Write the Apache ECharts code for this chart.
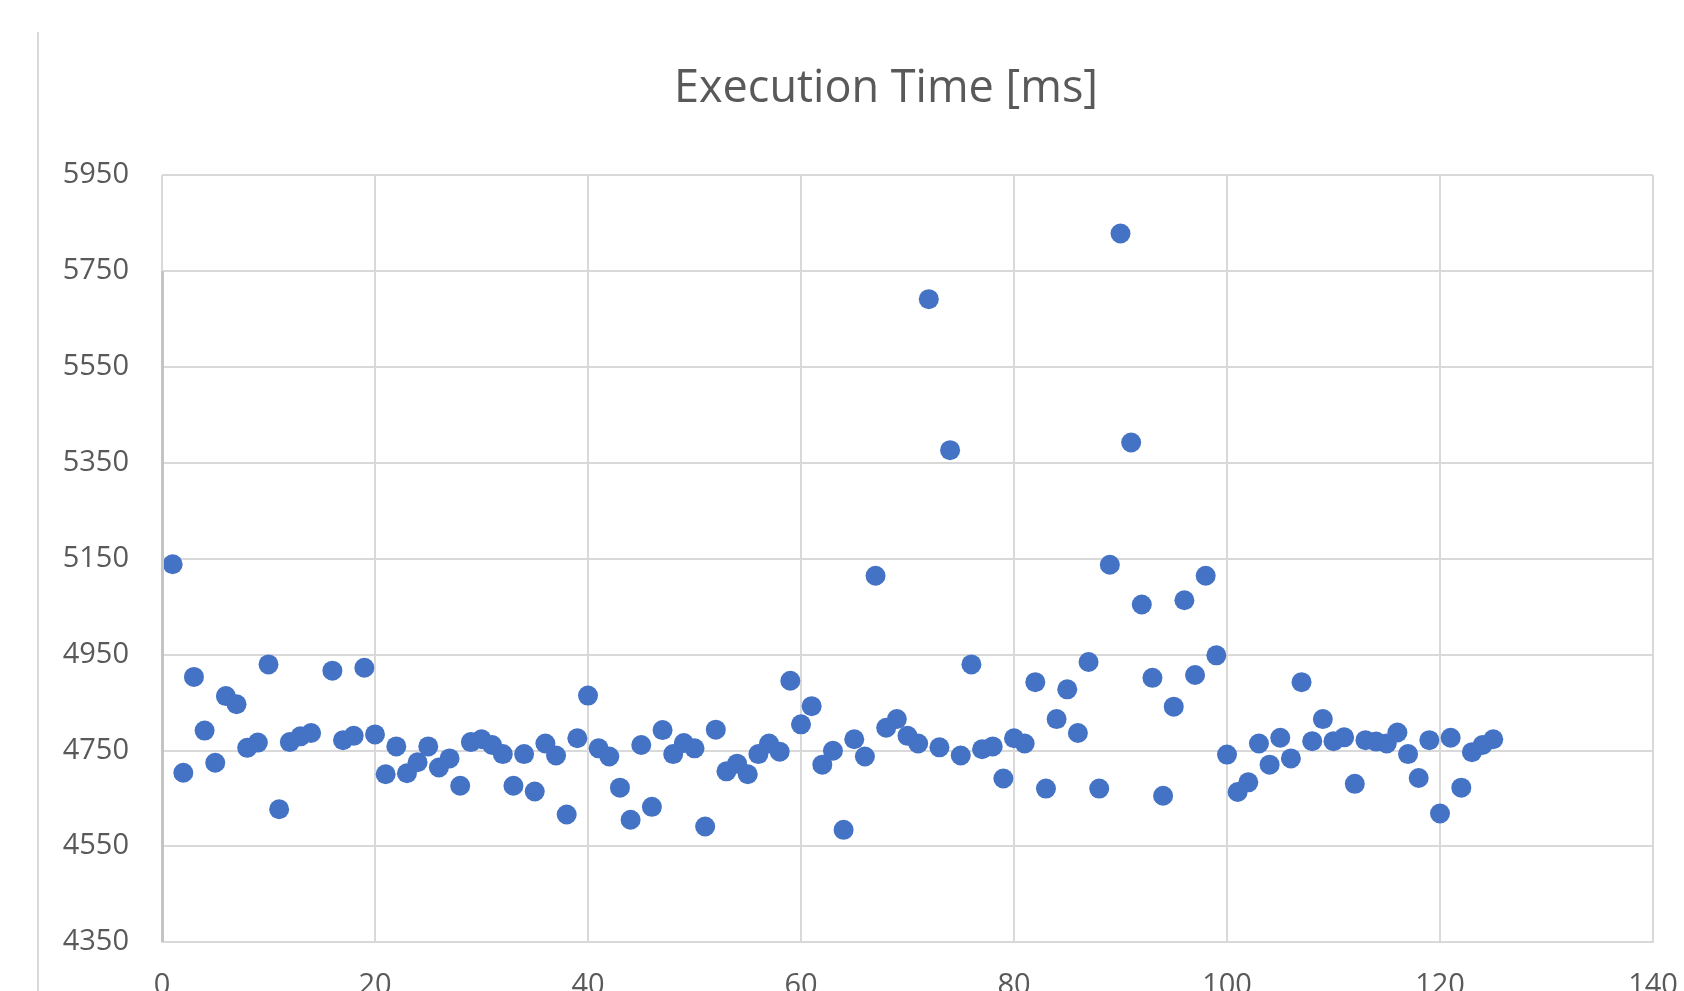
<!DOCTYPE html>
<html>
<head>
<meta charset="utf-8">
<script src="https://cdn.jsdelivr.net/npm/echarts@6/dist/echarts.min.js"></script>
<style>
html,body{margin:0;padding:0;background:#fff;}
#chart{width:1684px;height:991px;}
</style>
</head>
<body>
<div id="chart"></div>
<script>
const titleText = 'Execution Time [ms]';
const runIndex = [1,2,3,4,5,6,7,8,9,10,11,12,13,14,16,17,18,19,20,
  21,22,23,24,25,26,27,28,29,30,31,32,33,34,35,36,37,38,39,40,
  41,42,43,44,45,46,47,48,49,50,51,52,53,54,55,56,57,58,59,60,
  61,62,63,64,65,66,67,68,69,70,71,72,73,74,75,76,77,78,79,80,
  81,82,83,84,85,86,87,88,89,90,91,92,93,94,95,96,97,98,99,100,
  101,102,103,104,105,106,107,108,109,110,111,112,113,114,115,116,117,118,119,120,
  121,122,123,124,125];
const execTime = [5138,4703,4903,4791,4724,4863,4846,4755,4766,4929,4627,4767,4779,4786,4916,4771,4780,4922,4783,
  4700,4758,4702,4725,4758,4714,4733,4676,4767,4773,4761,4742,4676,4742,4664,4764,4739,4616,4775,4864,
  4754,4737,4672,4605,4761,4632,4792,4742,4765,4754,4591,4793,4706,4722,4700,4742,4764,4747,4895,4804,
  4842,4720,4749,4584,4773,4737,5114,4797,4815,4780,4764,5691,4756,5376,4739,4929,4752,4758,4691,4775,
  4764,4892,4670,4815,4877,4786,4934,4670,5137,5828,5392,5054,4901,4655,4841,5063,4907,5114,4948,4741,
  4663,4683,4764,4720,4776,4733,4892,4769,4815,4769,4777,4680,4771,4768,4764,4787,4742,4692,4771,4618,
  4776,4672,4746,4761,4773];
const xMin = 0, xMax = 140, xStep = 20;
const yMin = 4350, yMax = 5950, yStep = 200;

const points = runIndex.map((x, i) => [x, execTime[i]]);
const chart = echarts.init(document.getElementById('chart'), null, {renderer: 'canvas'});
const font = '"Open Sans", "Segoe UI", sans-serif';
chart.setOption({
  animation: false,
  backgroundColor: '#ffffff',
  title: {
    text: titleText,
    left: 669,
    top: 62,
    textStyle: {fontFamily: font, fontSize: 45, fontWeight: 'normal', color: '#595959'}
  },
  graphic: [{
    type: 'line',
    shape: {x1: 38, y1: 32, x2: 38, y2: 991},
    style: {stroke: '#d9d9d9', lineWidth: 2},
    silent: true
  }],
  grid: {left: 162, right: 31, top: 175, bottom: 49, containLabel: false, outerBoundsMode: 'none'},
  xAxis: {
    type: 'value', min: xMin, max: xMax, interval: xStep,
    axisLine: {show: true, lineStyle: {color: '#d9d9d9', width: 2}},
    axisTick: {show: false},
    splitLine: {show: true, lineStyle: {color: '#d9d9d9', width: 2}},
    axisLabel: {fontFamily: font, fontSize: 29, color: '#595959', margin: 29, formatter: v => String(v)}
  },
  yAxis: {
    type: 'value', min: yMin, max: yMax, interval: yStep,
    axisLine: {show: false},
    axisTick: {show: false},
    splitLine: {show: true, lineStyle: {color: '#d9d9d9', width: 2}},
    axisLabel: {fontFamily: font, fontSize: 29, color: '#595959', margin: 33, formatter: v => String(v)}
  },
  series: [{
    type: 'scatter',
    data: points,
    symbol: 'circle',
    symbolSize: 20,
    itemStyle: {color: '#4472C4', opacity: 1},
    markLine: {
      silent: true,
      symbol: ['none', 'none'],
      label: {show: false},
      lineStyle: {color: '#c4c4c4', width: 3, type: 'solid'},
      data: [[{coord: [xMin, yMin]}, {coord: [xMin, 5750]}]]
    }
  }]
});
</script>
</body>
</html>
